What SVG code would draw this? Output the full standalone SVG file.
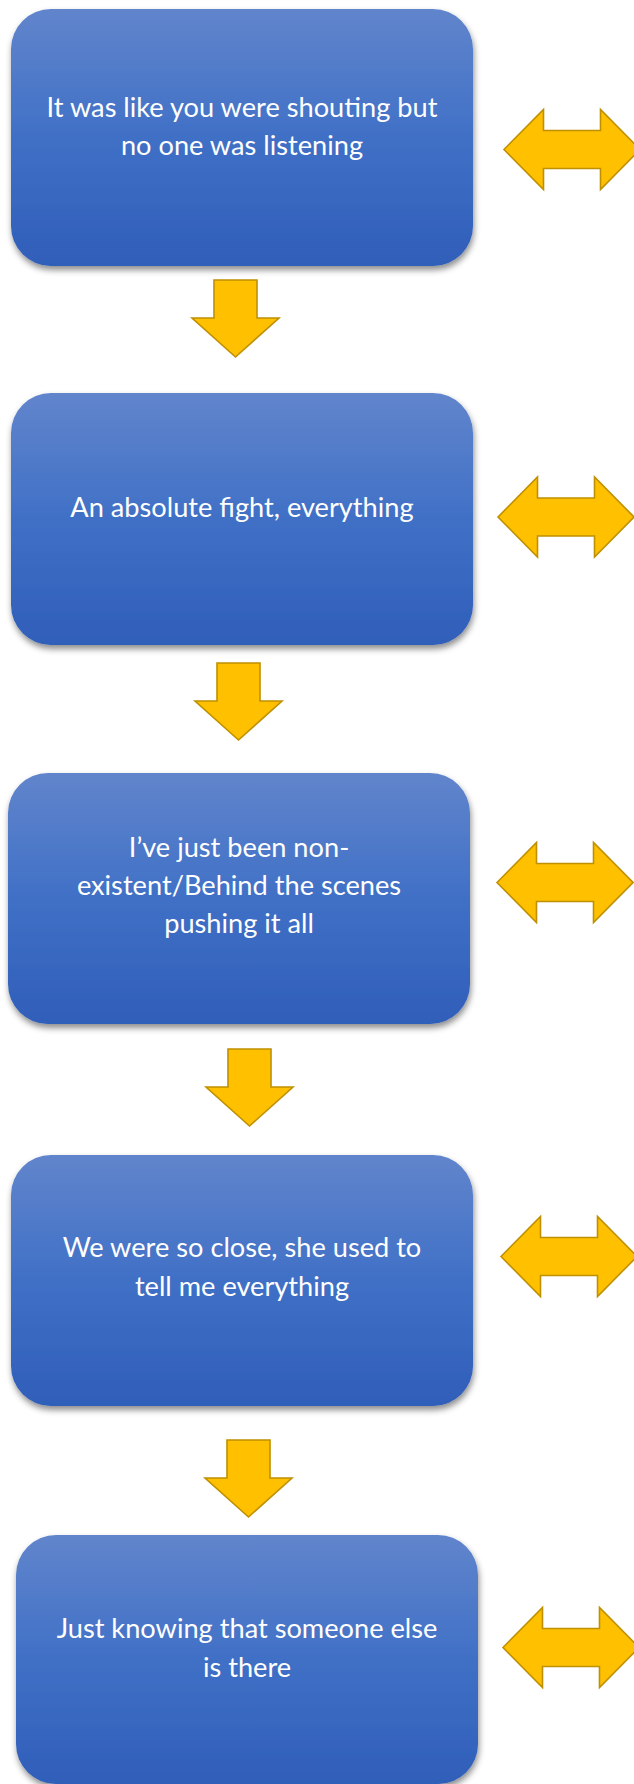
<svg xmlns="http://www.w3.org/2000/svg" width="634" height="1784" viewBox="0 0 634 1784">
<defs>
<linearGradient id="blue" x1="0" y1="0" x2="0" y2="1">
<stop offset="0" stop-color="#6185CC"/>
<stop offset="0.5" stop-color="#4070C6"/>
<stop offset="1" stop-color="#2F5EB9"/>
</linearGradient>
<filter id="sh" x="-10%" y="-10%" width="125%" height="125%">
<feDropShadow dx="1" dy="4" stdDeviation="3" flood-color="#000" flood-opacity="0.45"/>
</filter>
<path id="down" d="M0,0 H43 V38 H65 L21.5,77 L-22,38 H0 Z"/>
<path id="dbl" d="M0,0 L39.5,-40 V-19 H96.5 V-40 L136,0 L96.5,40 V19 H39.5 V40 Z"/>
</defs>
<style>
.box{fill:url(#blue);filter:url(#sh);}
.t{font-family:Lato,"Liberation Sans",sans-serif;font-size:27.2px;fill:#fff;text-anchor:middle;}
.arr{fill:#FFC000;stroke:#BF9000;stroke-width:1.6;stroke-linejoin:miter;}
</style>
<rect width="634" height="1784" fill="#fff"/>
<g id="node1">
<rect class="box" x="11" y="9" width="462" height="257" rx="40" ry="40"/>
<text class="t" x="242" y="117">It was like you were shouting but</text>
<text class="t" x="242" y="155">no one was listening</text>
</g>
<g id="node2">
<rect class="box" x="11" y="393" width="462" height="252" rx="40" ry="40"/>
<text class="t" x="242" y="517">An absolute fight, everything</text>
</g>
<g id="node3">
<rect class="box" x="8" y="773" width="462" height="251" rx="40" ry="40"/>
<text class="t" x="239" y="857">I’ve just been non-</text>
<text class="t" x="239" y="895">existent/Behind the scenes</text>
<text class="t" x="239" y="933">pushing it all</text>
</g>
<g id="node4">
<rect class="box" x="11" y="1155" width="462" height="251" rx="40" ry="40"/>
<text class="t" x="242" y="1257">We were so close, she used to</text>
<text class="t" x="242" y="1296">tell me everything</text>
</g>
<g id="node5">
<rect class="box" x="16" y="1535" width="462" height="249" rx="40" ry="40"/>
<text class="t" x="247" y="1638">Just knowing that someone else</text>
<text class="t" x="247" y="1677">is there</text>
</g>
<g id="connectors">
<use href="#down" class="arr" x="214" y="280"/>
<use href="#down" class="arr" x="217" y="663"/>
<use href="#down" class="arr" x="228" y="1049"/>
<use href="#down" class="arr" x="227" y="1440"/>
<use href="#dbl" class="arr" x="504" y="149.5"/>
<use href="#dbl" class="arr" x="498" y="517"/>
<use href="#dbl" class="arr" x="497" y="882.5"/>
<use href="#dbl" class="arr" x="501" y="1256.5"/>
<use href="#dbl" class="arr" x="503" y="1647.5"/>
</g>
</svg>
